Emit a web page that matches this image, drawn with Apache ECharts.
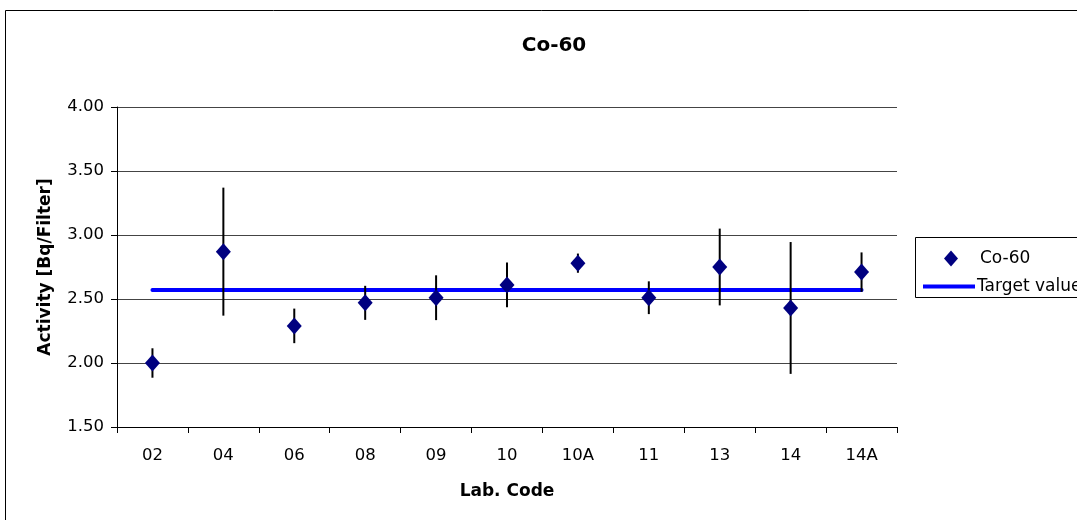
<!DOCTYPE html>
<html><head><meta charset="utf-8">
<script src="https://cdn.jsdelivr.net/npm/echarts@6/dist/echarts.min.js"></script>
<style>html,body{margin:0;padding:0;background:#fff}#c{width:1077px;height:520px}</style>
</head><body><div id="c"></div>
<script>
const categories = ['02','04','06','08','09','10','10A','11','13','14','14A'];
const activity =   [2.00, 2.87, 2.29, 2.47, 2.51, 2.61, 2.78, 2.51, 2.75, 2.43, 2.71];
const uncertainty = [0.115, 0.50, 0.135, 0.133, 0.175, 0.175, 0.075, 0.128, 0.30, 0.515, 0.154];
const targetValues = [2.57, 2.57, 2.57, 2.57, 2.57, 2.57, 2.57, 2.57, 2.57, 2.57, 2.57];
const yTicks = [1.5, 2.0, 2.5, 3.0, 3.5, 4.0];

const font = '"DejaVu Sans", sans-serif';
const chart = echarts.init(document.getElementById('c'), null, {renderer:'canvas'});
const errData = categories.map((c,i)=>[i, activity[i]-uncertainty[i], activity[i]+uncertainty[i]]);
chart.setOption({
  animation:false,
  backgroundColor:'#fff',
  title:{text:'Co-60', left:549, top:31, textAlign:'center',
    textStyle:{fontFamily:font, fontSize:20, fontWeight:'bold', color:'#000'}},
  grid:{left:117, right:180, top:107, bottom:93},
  graphic:[
    {type:'rect', shape:{x:5.5,y:10.5,width:1200,height:600}, style:{fill:null, stroke:'#000', lineWidth:1}, silent:true},
    {type:'rect', shape:{x:915.5,y:237.5,width:300,height:60}, style:{fill:'#fff', stroke:'#000', lineWidth:1}, silent:true, z:-1}
  ],
  legend:[
    {data:[{name:'Co-60', icon:'diamond'}], left:939, top:245, itemWidth:14, itemHeight:16,
      textStyle:{fontFamily:font, fontSize:17, color:'#000', padding:[0,0,0,17]}},
    {data:[{name:'Target value', icon:'rect'}], left:918, top:273, itemWidth:52, itemHeight:4, itemGap:2,
      itemStyle:{color:'#0000ff'},
      textStyle:{fontFamily:font, fontSize:17, color:'#000', padding:[0,0,0,-3]}}
  ],
  xAxis:{type:'category', data:categories, boundaryGap:true,
    name:'Lab. Code', nameLocation:'middle', nameGap:56,
    nameTextStyle:{fontFamily:font, fontSize:17, fontWeight:'bold', color:'#000'},
    axisLine:{lineStyle:{color:'#000', width:1}},
    axisTick:{show:true, alignWithLabel:false, length:6, lineStyle:{color:'#000'}},
    axisLabel:{fontFamily:font, fontSize:16.5, color:'#000', margin:20},
    splitLine:{show:false}},
  yAxis:{type:'value', min:1.5, max:4, interval:0.5,
    name:'Activity [Bq/Filter]', nameLocation:'middle', nameGap:63,
    nameTextStyle:{fontFamily:font, fontSize:17, fontWeight:'bold', color:'#000'},
    axisLine:{show:true, lineStyle:{color:'#000', width:1}},
    axisTick:{show:true, length:6, lineStyle:{color:'#000'}},
    axisLabel:{fontFamily:font, fontSize:16.5, color:'#000', margin:13,
      formatter:v=>{const t=yTicks.find(x=>Math.abs(x-v)<1e-9); return (t!==undefined?t:v).toFixed(2);}},
    splitLine:{show:true, lineStyle:{color:'#444', width:1}}},
  series:[
    {name:'Target value', type:'line', data:targetValues, symbol:'none', showSymbol:false,
      lineStyle:{color:'#0000ff', width:4, cap:'round'}, itemStyle:{color:'#0000ff'}, z:3},
    {name:'errorbars', type:'custom', data:errData, z:4,
      renderItem:(params, api)=>{
        const lo = api.coord([api.value(0), api.value(1)]);
        const hi = api.coord([api.value(0), api.value(2)]);
        return {type:'line', shape:{x1:lo[0], y1:lo[1], x2:hi[0], y2:hi[1]},
          style:{stroke:'#000', lineWidth:2}};
      }},
    {name:'Co-60', type:'scatter', data:activity, symbol:'diamond', symbolSize:[15,17],
      itemStyle:{color:'#000080', opacity:1}, z:5}
  ]
});
</script></body></html>
